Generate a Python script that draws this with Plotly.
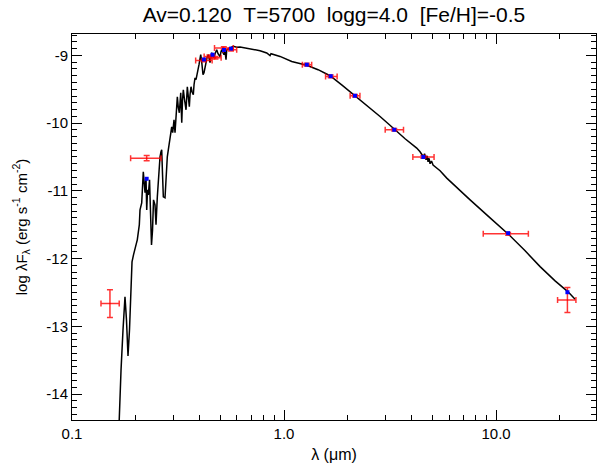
import plotly.graph_objects as go

# ---------------- data ----------------
# model spectrum (wavelength in micron, log lambda*F_lambda)
spec_wave = [0.1657, 0.1676, 0.1703, 0.1740, 0.1778, 0.1807, 0.1837, 0.1867, 0.1898, 0.1919,
             0.1950, 0.1983, 0.2004, 0.2032, 0.2054, 0.2077, 0.2093, 0.2132, 0.2169, 0.2191,
             0.2210, 0.2234, 0.2251, 0.2271, 0.2291, 0.2321, 0.2351, 0.2371, 0.2398, 0.2424,
             0.2463, 0.2490, 0.2526, 0.2559, 0.2601, 0.2629, 0.2649, 0.2673, 0.2696, 0.2746,
             0.2776, 0.2815, 0.2846, 0.2877, 0.2915, 0.2953, 0.2985, 0.3028, 0.3061, 0.3094,
             0.3139, 0.3173, 0.3208, 0.3257, 0.3293, 0.3321, 0.3350, 0.3394, 0.3450, 0.3499,
             0.3537, 0.3576, 0.3603, 0.3642, 0.3681, 0.3734, 0.3763, 0.3804, 0.3845, 0.3899,
             0.3929, 0.3972, 0.4046, 0.4081, 0.4103, 0.4148, 0.4194, 0.4240, 0.4286, 0.4333,
             0.4395, 0.4428, 0.4476, 0.4525, 0.4560, 0.4625, 0.4675, 0.4726, 0.4814, 0.4883,
             0.4990, 0.5045, 0.5083, 0.5156, 0.5212, 0.5269, 0.5326, 0.5367, 0.5443, 0.5563,
             0.5766, 0.5983, 0.6201, 0.6671, 0.7165, 0.7705, 0.8287, 0.8590, 0.8683, 0.9574,
             1.087, 1.280, 1.447, 1.648, 1.877, 2.162, 2.463, 2.837, 3.339, 3.723,
             4.225, 4.380, 4.540, 4.600, 4.675, 4.730, 4.778, 4.830, 4.883, 4.960,
             5.045, 5.156, 5.443, 5.855, 6.620, 7.543, 9.370, 11.43, 13.71, 16.13,
             18.98, 21.79, 23.59]
spec_logf = [-14.680, -14.192, -13.645, -13.054, -12.566, -12.906, -13.438, -13.054, -12.315, -12.049,
             -11.946, -11.872, -11.798, -11.724, -11.620, -11.502, -11.281, -11.177, -10.719, -10.911,
             -11.029, -10.808, -11.281, -10.985, -11.059, -10.837, -11.281, -11.798, -11.576, -11.133,
             -11.207, -11.502, -11.088, -10.763, -10.497, -10.423, -10.394, -10.763, -11.088, -11.103,
             -10.763, -10.497, -10.394, -10.290, -10.172, -10.054, -10.142, -9.950, -10.142, -9.876,
             -9.610, -9.773, -9.847, -9.551, -9.995, -9.655, -9.507, -9.655, -9.803, -9.463,
             -9.625, -9.758, -9.581, -9.463, -9.537, -9.581, -9.433, -9.330, -9.359, -9.285,
             -9.211, -9.137, -8.990, -9.064, -9.167, -9.285, -9.256, -9.182, -9.093, -9.034,
             -8.990, -9.064, -9.108, -9.019, -8.960, -9.004, -9.034, -8.975, -8.916, -8.975,
             -9.019, -8.945, -8.916, -8.960, -8.990, -8.945, -9.064, -8.916, -8.901, -8.891,
             -8.867, -8.879, -8.876, -8.891, -8.908, -8.931, -8.965, -9.004, -8.975, -9.015,
             -9.089, -9.145, -9.211, -9.300, -9.440, -9.596, -9.743, -9.902, -10.098, -10.231,
             -10.369, -10.423, -10.497, -10.453, -10.542, -10.482, -10.571, -10.520, -10.600, -10.560,
             -10.620, -10.645, -10.704, -10.812, -10.970, -11.133, -11.399, -11.640, -11.886, -12.119,
             -12.330, -12.488, -12.600]

# observed photometry (red, with error bars)
obs_wave = [0.151, 0.225, 0.419, 0.445, 0.475, 0.520, 0.562, 1.280, 1.660, 2.160, 3.310, 4.540, 11.40, 21.70]
obs_logf = [-12.665, -10.517, -9.074, -9.015, -9.035, -8.891, -8.916, -9.137, -9.310, -9.596, -10.098, -10.500, -11.635, -12.611]
obs_wlo = [0.137, 0.189, 0.383, 0.420, 0.450, 0.470, 0.515, 1.220, 1.570, 2.050, 3.000, 4.050, 8.70, 19.50]
obs_whi = [0.167, 0.263, 0.458, 0.470, 0.505, 0.576, 0.598, 1.350, 1.780, 2.280, 3.660, 5.100, 14.20, 23.80]
obs_ferr = [0.204, 0.037, 0.020, 0.020, 0.020, 0.020, 0.020, 0.020, 0.020, 0.020, 0.020, 0.020, 0.020, 0.185]

# model synthetic photometry (blue)
mod_wave = [0.225, 0.419, 0.460, 0.521, 0.562, 1.280, 1.660, 2.160, 3.310, 4.540, 11.40, 21.70]
mod_logf = [-10.822, -9.060, -8.990, -8.920, -8.900, -9.137, -9.307, -9.596, -10.098, -10.500, -11.625, -12.497]

title_text = "Av=0.120\u00a0\u00a0T=5700\u00a0\u00a0logg=4.0\u00a0\u00a0[Fe/H]=-0.5"
x_tickvals = [0.1, 1.0, 10.0]
x_ticktext = ["0.1", "1.0", "10.0"]
x_minor = [0.2, 0.3, 0.4, 0.5, 0.6, 0.7, 0.8, 0.9, 2, 3, 4, 5, 6, 7, 8, 9, 20, 30]
y_tickvals = [-14, -13, -12, -11, -10, -9]
y_ticktext = ["-14", "-13", "-12", "-11", "-10", "-9"]

# ---------------- figure ----------------
FONT = "Liberation Sans, Arial, Helvetica, sans-serif"
fig = go.Figure()

fig.add_trace(go.Scatter(x=spec_wave, y=spec_logf, mode="lines",
                         line=dict(color="black", width=1.5), hoverinfo="skip", showlegend=False))

err_plus = [h - w for w, h in zip(obs_wave, obs_whi)]
err_minus = [w - l for w, l in zip(obs_wave, obs_wlo)]
fig.add_trace(go.Scatter(x=obs_wave, y=obs_logf, mode="markers",
                         marker=dict(color="rgba(255,0,0,0.8)", size=1),
                         error_x=dict(type="data", symmetric=False, array=err_plus, arrayminus=err_minus,
                                      color="rgba(255,0,0,0.8)", thickness=1.5, width=3),
                         error_y=dict(type="data", array=obs_ferr, color="rgba(255,0,0,0.8)",
                                      thickness=1.5, width=3),
                         showlegend=False))

fig.add_trace(go.Scatter(x=mod_wave, y=mod_logf, mode="markers",
                         marker=dict(color="blue", size=4, symbol="square"), showlegend=False))

axis_common = dict(showgrid=False, zeroline=False, showline=True, linecolor="black", linewidth=1,
                   mirror="allticks", ticks="inside", ticklen=10, tickcolor="black", tickwidth=1,
                   automargin=False,
                   tickfont=dict(family=FONT, size=15, color="black"))

fig.update_xaxes(type="log", range=[-1, 1.4713], tickmode="array", tickvals=x_tickvals, ticktext=x_ticktext,
                 minor=dict(tickmode="array", tickvals=x_minor, ticks="inside", ticklen=5,
                            tickcolor="black", tickwidth=1, showgrid=False),
                 title=dict(text="λ (μm)", font=dict(family=FONT, size=16, color="black")),
                 **axis_common)
fig.update_yaxes(range=[-14.384, -8.684], tickmode="array", tickvals=y_tickvals, ticktext=y_ticktext,
                 minor=dict(dtick=0.1, ticks="inside", ticklen=5, tickcolor="black", tickwidth=1, showgrid=False),
                 title=dict(text="log λF<sub>λ</sub> (erg s<sup>-1</sup> cm<sup>-2</sup>)",
                            font=dict(family=FONT, size=15, color="black")),
                 **axis_common)

fig.update_layout(width=608, height=463, margin=dict(l=72, r=12, t=34, b=43, autoexpand=False),
                  paper_bgcolor="white", plot_bgcolor="white",
                  title=dict(text=title_text, x=0.5, xref="paper", xanchor="center",
                             y=1 - 15 / 463, yref="container", yanchor="middle",
                             font=dict(family=FONT, size=21, color="black")),
                  font=dict(family=FONT, color="black"))

fig.write_html("out.html", config={"displayModeBar": False},
               post_script="document.body.style.margin='0';document.body.style.padding='0';")
